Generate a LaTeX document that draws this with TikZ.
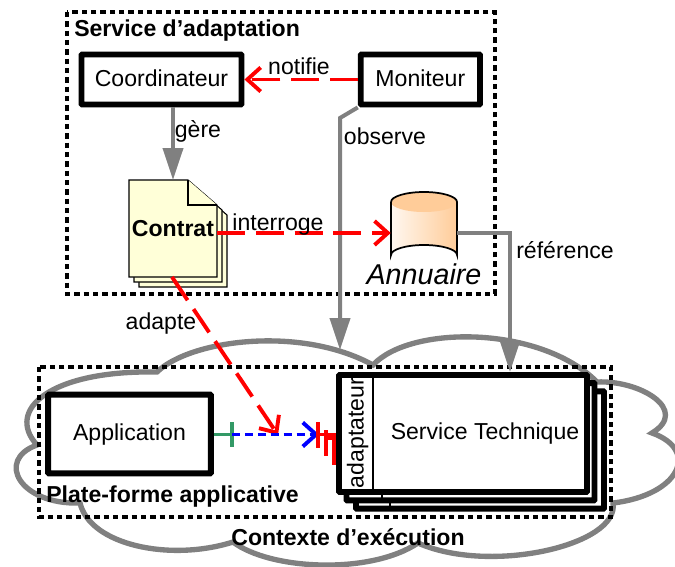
\documentclass[tikz,border=0pt]{standalone}
\usepackage{fontspec}
\setmainfont{Liberation Sans}
\usetikzlibrary{arrows.meta, bending, positioning}
\definecolor{nuage}{HTML}{808080}
\definecolor{papier}{HTML}{FFFFD8}
\definecolor{orangeclair}{HTML}{FFCC99}
\definecolor{vertlien}{HTML}{339966}

\begin{document}
\begin{tikzpicture}[
    x=.75pt, y=-.75pt,
    punkt/.style = {rectangle, draw, line width=4.4pt, fill=white, rounded corners=.6pt, inner sep=0pt},
    cadre/.style = {draw, line width=2.7pt, dash pattern=on 4pt off 3pt},
    feuille/.style = {draw, line width=.8pt, fill=papier},
    gris/.style = {draw=nuage, line width=3pt},
    pilgris/.style = {gris, -{Triangle[length=24pt, width=15pt]}},
    pilrouge/.style = {red, line width=2.9pt, dash pattern=on 21pt off 8pt, -{Straight Barb[length=10pt, width=18pt, line width=2.9pt]}},
    pilbleu/.style = {blue, line width=2.9pt, dash pattern=on 6pt off 3.7pt, -{Straight Barb[length=10pt, width=18pt, line width=2.9pt]}},
    trait/.style = {red, line width=2.9pt},
    titre/.style = {font=\fontsize{17.3}{20}\selectfont\bfseries, inner sep=0pt},
    texte/.style = {font=\fontsize{17.3}{20}\selectfont, inner sep=0pt, text height=13pt, text depth=3pt},
    ]

  \useasboundingbox (0,0) rectangle (675,567);

  % nuage
  \draw[gris, line width=4pt, fill=white]
  (157,372) .. controls (190,340) and (300,325) .. (373,365)
  .. controls (410,325) and (540,325) .. (597,382)
  .. controls (640,380) and (690,410) .. (652,433)
  .. controls (700,450) and (680,495) .. (613,503)
  .. controls (620,545) and (490,575) .. (418,543)
  .. controls (370,575) and (270,570) .. (233,542)
  .. controls (170,562) and (90,545) .. (80,503)
  .. controls (20,505) and (-5,460) .. (37,445)
  .. controls (5,410) and (50,370) .. (157,372) -- cycle;

  % cadres
  \draw[cadre] (67,12) rectangle (495,294);
  \draw[cadre] (39,367) rectangle (611,517);

  \node[titre, anchor=west] (service adaptation) at (74,31) {Service d’adaptation};
  \node[titre, anchor=west] (plateforme) at (46,497) {Plate-forme applicative};
  \node[titre] (contexte) at (348,537) {Contexte d’exécution};

  \node[punkt, minimum width=120pt, minimum height=37.5pt, texte] (coordinateur) at (161.5,79.5) {Coordinateur};
  \node[punkt, minimum width=89.5pt, texte] (moniteur) [minimum height=37.5pt, right=85pt of coordinateur] {Moniteur};
  \node[punkt, minimum width=122pt, minimum height=59pt, texte] (application) at (129.5,434) {Application};

  % contrat
  \foreach \d in {10,5}
    \draw[feuille] (129+\d,180+\d) -- (188+\d,180+\d) -- (217+\d,205+\d) -- (217+\d,277+\d) -- (129+\d,277+\d) -- cycle;
  \draw[feuille] (129,180) -- (188,180) -- (217,205) -- (217,277) -- (129,277) -- cycle;
  \draw[feuille] (188,180) -- (188,205) -- (217,205);
  \node[titre, minimum width=66pt, minimum height=72.75pt] (contrat) at (173,228.5) {Contrat};

  % annuaire
  \path[left color=orangeclair!15, right color=orangeclair] (391,202) -- (391,255) arc[start angle=180, end angle=360, x radius=33, y radius=10] -- (457,202) -- cycle;
  \fill[orangeclair] (424,202) ellipse[x radius=33, y radius=10];
  \draw[line width=1.3pt] (391,202) -- (391,255) arc[start angle=180, end angle=360, x radius=33, y radius=10] -- (457,202) arc[start angle=0, end angle=-180, x radius=33, y radius=10];
  \node[minimum width=49.5pt, minimum height=48pt, inner sep=0pt] (annuaire) at (424,233) {};
  \node[texte, font=\fontsize{21.5}{24}\selectfont\itshape] (annuaire nom) at (424,278) {Annuaire};

  % service technique
  \node[punkt, minimum width=186pt, minimum height=88pt] (stack3) at (480,450) {};
  \draw[line width=1.8pt] (390,495) -- (390,510);
  \node[punkt, minimum width=186pt, minimum height=88pt] (stack2) at (470.5,441.75) {};
  \draw[line width=1.8pt] (382,490) -- (382,502);
  \node[punkt, minimum width=186pt, minimum height=87.75pt] (service) at (463,433.5) {};
  \draw[line width=1.8pt] (373,375) -- (373,492);
  \node[texte, rotate=90] (adaptateur) at (357,433) {adaptateur};
  \node[texte] (service technique) at (485,433) {Service Technique};

  \coordinate (observe coude) at (340,118);
  \coordinate (observe fin) at (340,350);
  \coordinate (reference fin) at (510,372);
  \coordinate (adapte fin) at (278,435);
  \coordinate (lien) at (232,434.5);
  \coordinate (port) at (319,434.5);
  \coordinate (port bas) at (334,438);

  \draw[pilgris] (contrat.north |- coordinateur.south) -- (contrat.north |- 0,180);
  \draw[pilgris] (moniteur.south west) -- (observe coude) -- (observe fin);
  \draw[pilgris] (annuaire.east) -| (reference fin);

  \draw[pilrouge] (moniteur.west) -- (coordinateur.east);
  \draw[pilrouge] (contrat.east |- annuaire.west) -- (annuaire.west);
  \draw[pilrouge] (172,277) -- (adapte fin);

  \draw[vertlien, line width=2.9pt] (application.east |- lien) -- (lien);
  \draw[vertlien, line width=2.9pt] (232,422) -- (232,447);
  \draw[pilbleu] (lien) -- (port);

  \draw[trait] (318,422) -- (318,448);
  \draw[trait] (326,430) -- (326,456);
  \draw[trait] (port) -- (service.west |- port);
  \draw[trait] (326,438) -- (port bas) -- (334,465);

  \node[texte] (notifie) at (299,68) {notifie};
  \node[texte] (gere) at (198,131) {gère};
  \node[texte] (observe) at (385,138) {observe};
  \node[texte] (interroge) at (278,224) {interroge};
  \node[texte] (reference) at (565,252) {référence};
  \node[texte] (adapte) at (161,323) {adapte};

\end{tikzpicture}
\end{document}
